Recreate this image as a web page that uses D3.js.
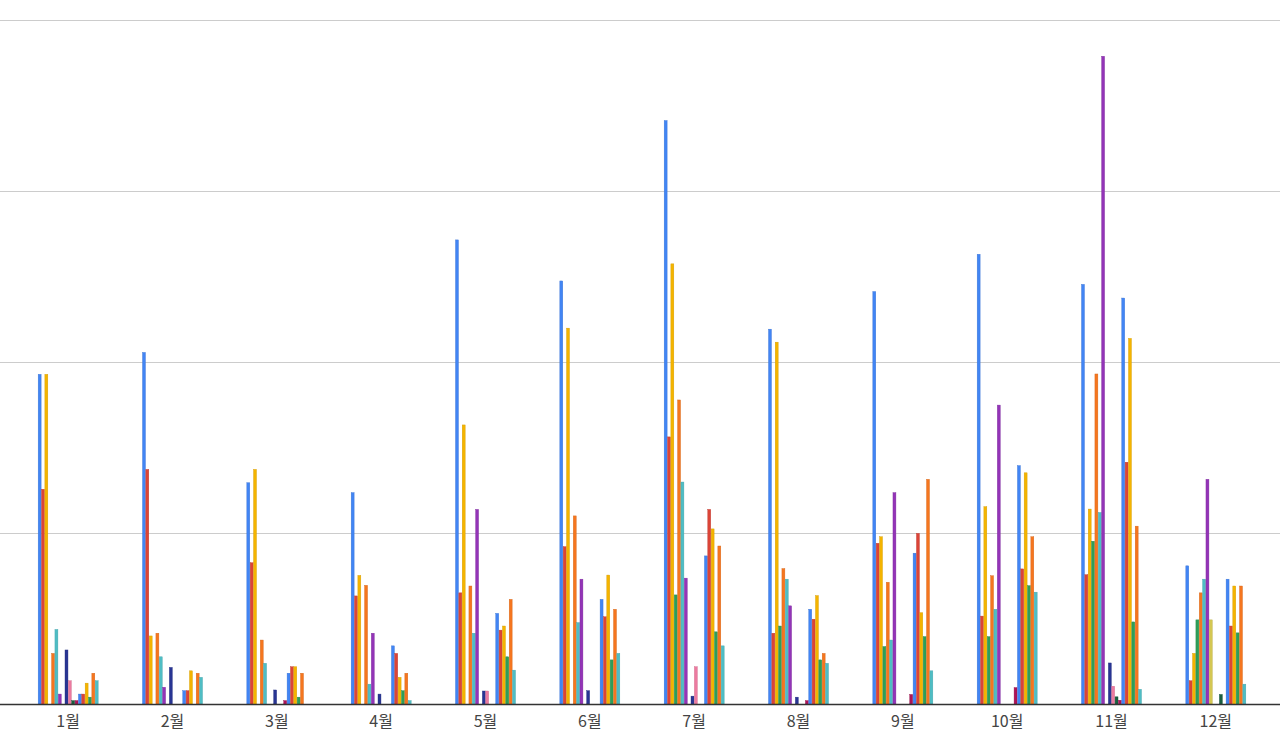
<!DOCTYPE html>
<html><head><meta charset="utf-8">
<script src="https://cdn.jsdelivr.net/npm/d3@7"></script>
<style>
html,body{margin:0;padding:0;background:#fff;}
svg{display:block;}
</style></head>
<body><svg id="chart" width="1280" height="753"></svg>
<script>
// ---- data ----
const months = ["1월","2월","3월","4월","5월","6월","7월","8월","9월","10월","11월","12월"];
const gridTicks = [0, 50, 100, 150, 200];

const s01 = [96.4, 102.8, 64.7, 61.8, 135.7, 123.7, 170.6, 109.6, 120.6, 131.5, 122.7, 40.4];
const s02 = [62.8, 68.6, 41.3, 31.6, 32.5, 46.0, 78.1, 20.7, 47.0, 25.7, 37.8, 6.8];
const s03 = [96.4, 19.9, 68.6, 37.6, 81.6, 109.9, 128.7, 105.8, 48.9, 57.7, 57.0, 14.8];
const s04 = [0, 0, 0, 0, 0, 0, 31.9, 22.8, 16.8, 19.7, 47.6, 24.6];
const s05 = [14.8, 20.7, 18.7, 34.7, 34.5, 55.0, 88.9, 39.6, 35.6, 37.5, 96.5, 32.5];
const s06 = [21.8, 13.8, 11.9, 5.8, 20.7, 23.8, 64.9, 36.5, 18.7, 27.7, 56.0, 36.5];
const s07 = [2.9, 4.9, 0, 20.7, 56.9, 36.5, 36.8, 28.7, 61.8, 87.4, 189.4, 65.7];
const s08 = [0, 0, 0, 0, 0, 0, 0, 0, 0, 0, 0, 24.6];
const s09 = [15.8, 10.7, 4.1, 2.9, 3.8, 3.9, 2.3, 2.0, 0, 0, 12.0, 0];
const s10 = [6.8, 0, 0, 0, 3.8, 0, 10.9, 0, 0, 0, 5.2, 0];
const s11 = [1.0, 0, 0, 0, 0, 0, 0, 0, 0, 0, 2.1, 2.8];
const s12 = [1.0, 0, 1.0, 0, 0, 0, 0, 1.0, 2.8, 4.8, 1.1, 0];
const s13 = [2.9, 3.9, 9.0, 17.0, 26.5, 30.6, 43.3, 27.7, 44.1, 69.7, 118.7, 36.5];
const s14 = [2.9, 3.9, 10.9, 14.8, 21.6, 25.5, 56.9, 24.8, 49.9, 39.5, 70.7, 22.8];
const s15 = [6.1, 9.7, 10.9, 7.8, 22.8, 37.7, 51.2, 31.7, 26.7, 67.6, 106.9, 34.5];
const s16 = [2.0, 0, 2.0, 3.9, 13.8, 12.9, 21.1, 12.9, 19.7, 34.6, 24.0, 20.8];
const s17 = [9.0, 9.0, 9.0, 9.0, 30.6, 27.7, 46.2, 14.8, 65.7, 48.9, 52.0, 34.5];
const s18 = [6.8, 7.8, 0, 1.0, 9.9, 14.8, 17.0, 11.9, 9.7, 32.7, 4.3, 5.8];

const seriesValues = [s01,s02,s03,s04,s05,s06,s07,s08,s09,s10,s11,s12,s13,s14,s15,s16,s17,s18];
const seriesNames = seriesValues.map((_, i) => "시리즈" + (i + 1));
const colors = ["#4285f4","#db4437","#f4b400","#2e9e58","#f5761f","#4fbdc4","#9334b7","#d4c752",
                "#283593","#ec7aa0","#185e40","#ad1457",
                "#4285f4","#db4437","#f4b400","#2e9e58","#f5761f","#4fbdc4"];

// ---- chart ----
const W = 1280, H = 753;
const svg = d3.select("#chart");

const x0 = d3.scaleBand().domain(months).range([16, 1268]).paddingInner(0).paddingOuter(0);
const groupW = 60;
const x1 = d3.scaleBand().domain(seriesNames).range([0, groupW]).paddingInner(0.12).paddingOuter(0);
const y = d3.scaleLinear().domain([0, 200]).range([704, 20]);

// grid lines
svg.append("g").selectAll("line").data(gridTicks.filter(t => t > 0)).join("line")
  .attr("x1", 0).attr("x2", W)
  .attr("y1", d => y(d) + 0.5).attr("y2", d => y(d) + 0.5)
  .attr("stroke", "#cccccc").attr("stroke-width", 1);

// bars
const flat = [];
months.forEach((m, mi) => {
  seriesValues.forEach((arr, si) => {
    if (arr[mi] > 0) flat.push({m, name: seriesNames[si], v: arr[mi], c: colors[si]});
  });
});

svg.append("g").selectAll("rect").data(flat).join("rect")
  .attr("x", d => x0(d.m) + x0.bandwidth() / 2 - groupW / 2 + x1(d.name))
  .attr("y", d => y(d.v))
  .attr("width", x1.bandwidth())
  .attr("height", d => y(0) - y(d.v))
  .attr("fill", d => d.c)
  .attr("stroke", d => d3.color(d.c).darker(0.4))
  .attr("stroke-width", 0.4);

// baseline + axis labels
const xAxis = d3.axisBottom(x0).tickSize(0).tickPadding(12);
const ax = svg.append("g").attr("transform", `translate(0,${y(0)})`).call(xAxis);
ax.select(".domain").remove();
ax.selectAll("text")
  .attr("font-family", "'Noto Sans CJK KR', Roboto, sans-serif")
  .attr("font-size", 16).attr("fill", "#444");

svg.append("line").attr("x1", 0).attr("x2", W)
  .attr("y1", y(0) + 0.5).attr("y2", y(0) + 0.5)
  .attr("stroke", "#333").attr("stroke-width", 1.5);
</script>
</body></html>
